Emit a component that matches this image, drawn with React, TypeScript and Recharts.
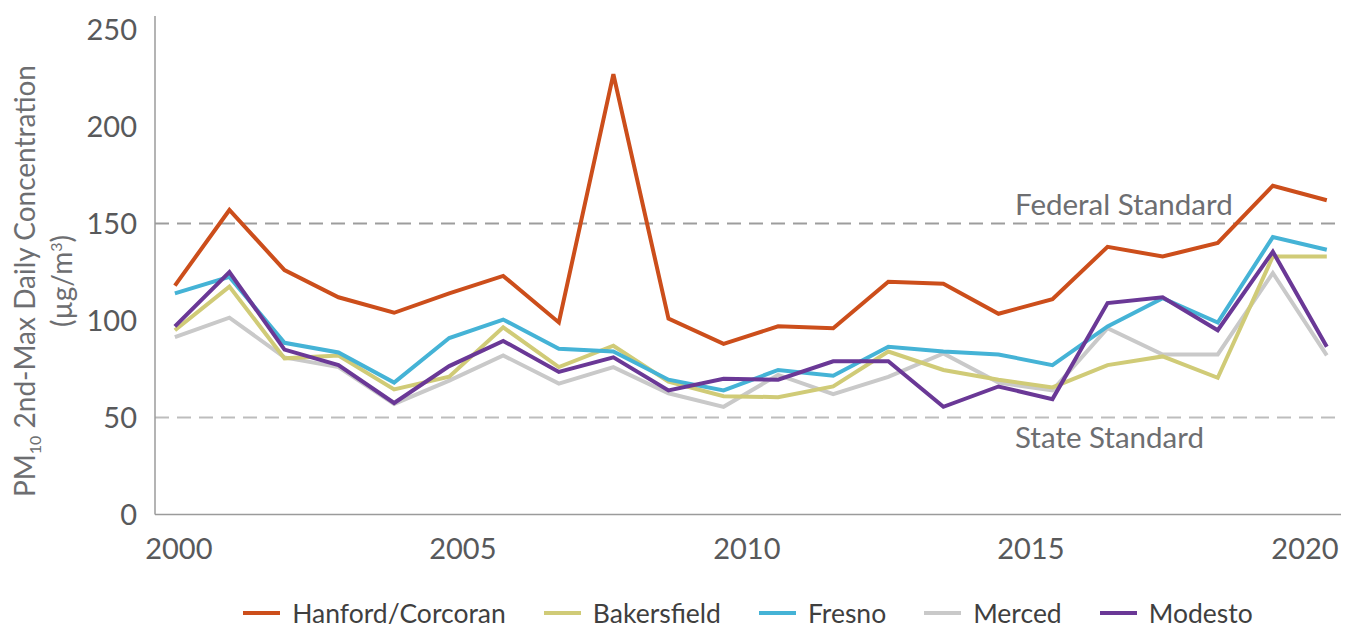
import React from 'react';
import { LineChart, Line, XAxis, YAxis, ReferenceLine } from 'recharts';

// plotted year position of each point
const xPos = [
  1999.93, 2000.89, 2001.86, 2002.81, 2003.79, 2004.76, 2005.71, 2006.69, 2007.65, 2008.62, 2009.59,
  2010.55, 2011.52, 2012.49, 2013.46, 2014.43, 2015.38, 2016.35, 2017.32, 2018.29, 2019.26, 2020.21,
];

const hanford = [118, 157, 126, 112, 104, 114, 123, 99, 227, 101, 88, 97, 96, 120, 119, 103.5, 111, 138, 133, 140, 169.5, 162];
const bakersfield = [95, 117.5, 80.5, 82, 64.5, 71, 96.5, 76, 87, 68.5, 61, 60.5, 66, 84, 74.5, 69.5, 65.5, 77, 81.5, 70.5, 133, 133];
const fresno = [114, 122.5, 88.5, 83.5, 68, 91, 100.5, 85.5, 84, 69.5, 64, 74.5, 71.5, 86.5, 84, 82.5, 77, 97, 111.5, 99, 143, 136.5];
const merced = [91.5, 101.5, 81, 76, 57, 69, 82, 67.5, 76, 62.5, 55.5, 72, 62, 71, 83, 68, 64, 96, 82.5, 82.5, 124.5, 82];
const modesto = [97, 125, 85, 77, 57.5, 76.5, 89.5, 73.5, 81, 64, 70, 69.5, 79, 79, 55.5, 66, 59.5, 109, 112, 95, 135.5, 86.5];

const yTicks = [0, 50, 100, 150, 200, 250];
const xTicks = [2000, 2005, 2010, 2015, 2020];

const seriesList = [
  { key: 'hanford', name: 'Hanford/Corcoran', color: '#CC4E1B', values: hanford },
  { key: 'bakersfield', name: 'Bakersfield', color: '#D0CB77', values: bakersfield },
  { key: 'fresno', name: 'Fresno', color: '#45B3D6', values: fresno },
  { key: 'merced', name: 'Merced', color: '#C9C9C9', values: merced },
  { key: 'modesto', name: 'Modesto', color: '#6A3896', values: modesto },
];
// draw order (bottom to top)
const drawOrder = ['merced', 'bakersfield', 'fresno', 'modesto', 'hanford'];

const data = xPos.map((x, i) => ({
  x,
  hanford: hanford[i],
  bakersfield: bakersfield[i],
  fresno: fresno[i],
  merced: merced[i],
  modesto: modesto[i],
}));

const W = 1351;
const H = 580;
const MARGIN = { top: 16, right: 10, left: 0, bottom: 5.5 };
const FONT = 'Lato, "Noto Sans", sans-serif';

function XTick(props: any) {
  const { x, y, payload } = props;
  const tx = Math.min(x, W - MARGIN.right - 36);
  return (
    <text x={tx} y={y} dy="0.71em" textAnchor="middle" fill="#58595B" fontSize={29} fontFamily={FONT}>
      {payload.value}
    </text>
  );
}

function StdLabel(props: any) {
  const { viewBox, text, below } = props;
  if (!viewBox) return null;
  const x = viewBox.x + viewBox.width - 326;
  const y = below ? viewBox.y + 30 : viewBox.y - 9;
  return (
    <text x={x} y={y} fill="#6D6E71" fontSize={29.5} fontFamily={FONT}>
      {text}
    </text>
  );
}

function YTitle() {
  const cy = 281;
  return (
    <g fill="#6D6E71" fontSize={28} fontFamily={FONT}>
      <text x={35} y={cy} textAnchor="middle" transform={`rotate(-90, 35, ${cy})`}>
        PM<tspan fontSize={16} dy={6}>10</tspan>
        <tspan dy={-6}> 2nd-Max Daily Concentration</tspan>
      </text>
      <text x={72} y={cy} textAnchor="middle" transform={`rotate(-90, 72, ${cy})`}>
        (µg/m<tspan fontSize={16} dy={-10}>3</tspan>
        <tspan dy={10}>)</tspan>
      </text>
    </g>
  );
}

export default function App() {
  return (
    <div style={{ position: 'relative', width: W, height: 629, background: '#fff', overflow: 'hidden' }}>
      <style>{'body{margin:0}'}</style>
      <LineChart width={W} height={H} data={data} margin={MARGIN}>
        <XAxis
          dataKey="x"
          type="number"
          domain={[1999.58, 2020.46]}
          ticks={xTicks}
          allowDataOverflow
          height={60}
          tickSize={0}
          tickMargin={24}
          tickLine={false}
          axisLine={{ stroke: '#9B9B9B', strokeWidth: 1.5 }}
          tick={<XTick />}
        />
        <YAxis
          type="number"
          domain={[0, 257]}
          ticks={yTicks}
          allowDataOverflow
          width={155}
          tickSize={0}
          tickMargin={18}
          tickLine={false}
          axisLine={{ stroke: '#9B9B9B', strokeWidth: 1.5 }}
          tick={{ fill: '#58595B', fontSize: 29, fontFamily: FONT }}
          label={<YTitle />}
        />
        <ReferenceLine
          y={150}
          stroke="#9D9D9D"
          strokeWidth={2}
          strokeDasharray="14 8"
          label={<StdLabel text="Federal Standard" />}
        />
        <ReferenceLine
          y={50}
          stroke="#BDBDBD"
          strokeWidth={2}
          strokeDasharray="14 8"
          label={<StdLabel text="State Standard" below />}
        />
        {drawOrder.map((k) => {
          const s = seriesList.find((d) => d.key === k)!;
          return (
            <Line
              key={s.key}
              type="linear"
              dataKey={s.key}
              name={s.name}
              stroke={s.color}
              strokeWidth={4}
              dot={false}
              activeDot={false}
              isAnimationActive={false}
            />
          );
        })}
      </LineChart>
      <div
        style={{
          position: 'absolute',
          left: 155,
          width: 1186,
          top: 597,
          display: 'flex',
          justifyContent: 'center',
          alignItems: 'center',
          fontFamily: FONT,
          fontSize: 26.5,
          color: '#3F3F3F',
        }}
      >
        {seriesList.map((s, i) => (
          <div
            key={s.key}
            style={{ display: 'flex', alignItems: 'center', marginRight: i < seriesList.length - 1 ? 38 : 0 }}
          >
            <div style={{ width: 37, height: 4.5, background: s.color, marginRight: 12 }} />
            <span>{s.name}</span>
          </div>
        ))}
      </div>
    </div>
  );
}
